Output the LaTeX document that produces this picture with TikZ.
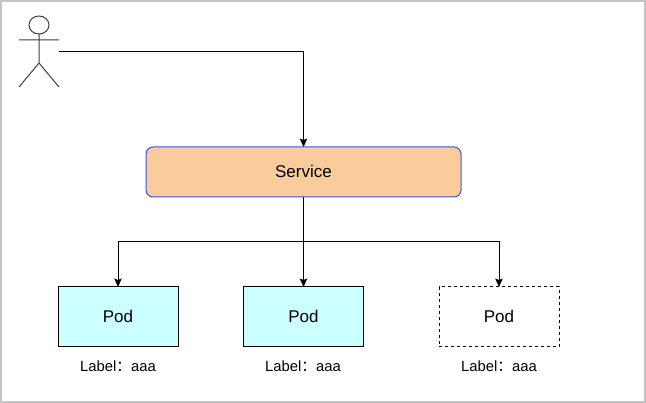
\documentclass[tikz,border=0pt]{standalone}
\usepackage{fontspec}
\setmainfont{Liberation Sans}
\newfontfamily\cjkfont{Noto Sans CJK SC}
\usetikzlibrary{arrows.meta}
\definecolor{frameGrey}{HTML}{C4C4C4}
\definecolor{serviceFill}{HTML}{FACC9C}
\definecolor{serviceEdge}{HTML}{3355EE}
\definecolor{podFill}{HTML}{CCFFFF}
\tikzset{
  x=1pt, y=-1pt,
  every node/.style={inner sep=0pt, outer sep=0pt},
  figure/.style={draw=black!75, line width=1pt},
  link/.style={draw=black, line width=1pt, -{Stealth[length=8.5pt,width=7.5pt,inset=1.5pt]}},
  servicebox/.style={draw=serviceEdge, fill=serviceFill, line width=1pt, rounded corners=7pt,
    minimum width=315pt, minimum height=50pt, text depth=2pt, font=\fontsize{17}{20}\selectfont},
  podbox/.style={draw=black, line width=1pt, minimum width=120pt, minimum height=60pt,
    text depth=2pt, font=\fontsize{17}{20}\selectfont},
  activepod/.style={podbox, fill=podFill},
  sparepod/.style={podbox, dashed, dash pattern=on 3pt off 3pt},
  caption/.style={font=\fontsize{14.8}{17}\selectfont},
}
\newcommand{\labeltext}{Label{\cjkfont ：}aaa}
\begin{document}
\begin{tikzpicture}
  \useasboundingbox (0,0) rectangle (646,403);
  \fill[frameGrey] (0,0) rectangle (646,403);
  \fill[white] (2,2) rectangle (644,401);

  % user figure
  \node[minimum width=40pt, minimum height=71pt] (user) at (39,51.5) {};
  \draw[figure] (39,25) ellipse [x radius=10, y radius=9];
  \draw[figure] (39,34) -- (39,63) (19,40) -- (59,40) (19,87) -- (39,63) -- (59,87);

  % service and pods
  \node[servicebox] (service) at (303.5,172) {Service};
  \node[activepod] (pod1) at (118,317) {Pod};
  \node[activepod] (pod2) at (303.5,317) {Pod};
  \node[sparepod] (pod3) at (499,317) {Pod};

  \node[caption] (label1) at (118,366.5) {\labeltext};
  \node[caption] (label2) at (303,366.5) {\labeltext};
  \node[caption] (label3) at (499,366.5) {\labeltext};

  % connectors
  \coordinate (junction) at (service.south |- 0,241.5);
  \draw[link] (user.east) -| (service.north);
  \draw[link] (service.south) -- (pod2.north);
  \draw[link] (junction) -| (pod1.north);
  \draw[link] (junction) -| (pod3.north);
\end{tikzpicture}
\end{document}
